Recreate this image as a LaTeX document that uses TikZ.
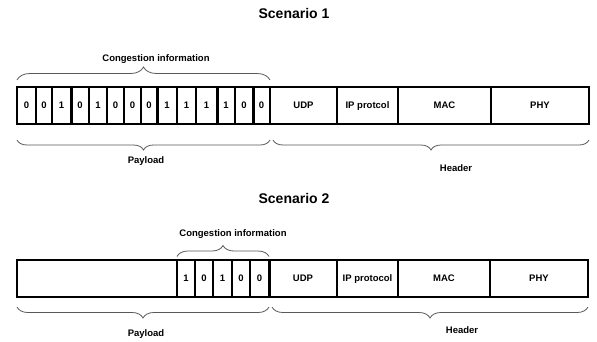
\documentclass[tikz,border=0pt]{standalone}
\usepackage{fontspec}
\setmainfont{Liberation Sans}
\usetikzlibrary{positioning, decorations.pathreplacing}

\begin{document}
\begin{tikzpicture}[x=1pt,y=-1pt,%
  CellStyle/.style={shape=rectangle,draw=black,line width=1.4pt,minimum height=37pt,
    inner sep=0pt,outer sep=0pt,anchor=west,text height=7pt,text depth=2pt,
    font=\fontsize{9.5}{11}\selectfont\bfseries},
  ThickStyle/.style={draw=black,line width=3pt},
  BraceStyle/.style={draw=black!65,line width=0.8pt,decorate,decoration={brace,amplitude=#1}},
  LabelStyle/.style={font=\fontsize{9.5}{11}\selectfont\bfseries},
  TitleStyle/.style={font=\fontsize{14}{16}\selectfont\bfseries}]
  \useasboundingbox (0,0) rectangle (597,341);
  % Scenario 1
  \node[TitleStyle] (t1) at (294,13) {Scenario 1};
  \foreach \l/\r/\b [count=\i from 0, evaluate=\r as \w using \r-\l] in
    {17/36/0,36/52/0,52/71/1,71/89/0,89/107/1,107/124/0,124/141/0,
     141/157/0,157/177/1,177/196/1,196/217/1,217/235/1,235/253/0,253/270/0}
    \node[CellStyle,minimum width=\w pt] (a\i) at (\l,105.5) {\b};
  \node[CellStyle,minimum width=67pt,right=0pt of a13] (a14) {UDP};         % header cells
  \node[CellStyle,minimum width=61pt,right=0pt of a14] (a15) {IP protcol};
  \node[CellStyle,minimum width=93pt,right=0pt of a15] (a16) {MAC};
  \node[CellStyle,minimum width=98pt,right=0pt of a16] (a17) {PHY};
  \foreach \n in {a3,a8,a11,a13}
    \draw[ThickStyle] (\n.north west) -- (\n.south west);
  \draw[BraceStyle=13] ([yshift=7pt]a0.north west) -- ([yshift=7pt]a13.north east);
  \draw[BraceStyle=10] ([yshift=-16pt]a13.south east) -- ([yshift=-16pt]a0.south west);
  \draw[BraceStyle=10] ([yshift=-16pt]a17.south east) -- ([xshift=3pt,yshift=-16pt]a14.south west);
  \node[LabelStyle] (c1) at (156,59) {Congestion information};
  \node[LabelStyle] (p1) at (146,161) {Payload};
  \node[LabelStyle] (h1) at (456,168.5) {Header};
  % Scenario 2
  \node[TitleStyle] (t2) at (294,198) {Scenario 2};
  \node[CellStyle,minimum width=160pt] (b0) at (17,278.5) {};
  \foreach \l/\r/\b [count=\i from 1, evaluate=\r as \w using \r-\l] in
    {177/195/1,195/213/0,213/232/1,232/250/0,250/269/0}
    \node[CellStyle,minimum width=\w pt] (b\i) at (\l,278.5) {\b};
  \node[CellStyle,minimum width=68pt,right=0pt of b5] (b6) {UDP};           % header cells
  \node[CellStyle,minimum width=61pt,right=0pt of b6] (b7) {IP protocol};
  \node[CellStyle,minimum width=92pt,right=0pt of b7] (b8) {MAC};
  \node[CellStyle,minimum width=98pt,right=0pt of b8] (b9) {PHY};
  \draw[ThickStyle] (b5.north east) -- (b5.south east);
  \draw[BraceStyle=11] ([yshift=3.5pt]b1.north west) -- ([yshift=3.5pt]b5.north east);
  \draw[BraceStyle=11] ([yshift=-10pt]b5.south east) -- ([yshift=-10pt]b0.south west);
  \draw[BraceStyle=11] ([yshift=-10pt]b9.south east) -- ([xshift=3pt,yshift=-10pt]b6.south west);
  \node[LabelStyle] (c2) at (233,234.5) {Congestion information};
  \node[LabelStyle] (p2) at (146,334.5) {Payload};
  \node[LabelStyle] (h2) at (462,330) {Header};
\end{tikzpicture}
\end{document}
